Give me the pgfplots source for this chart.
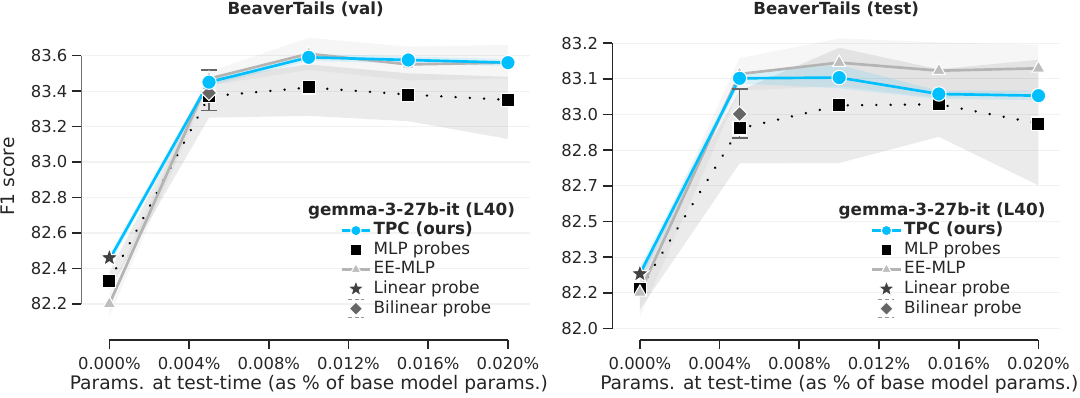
\documentclass[border=0pt]{standalone}
\usepackage{pgfplots}
\pgfplotsset{compat=1.18}
\usepackage{fontspec}
\setmainfont{DejaVu Sans}

\definecolor{tpc}{RGB}{0,191,255}
\definecolor{eemlp}{RGB}{190,190,190}
\definecolor{eegray}{RGB}{180,180,180}
\definecolor{linp}{RGB}{64,64,64}
\definecolor{bilp}{RGB}{102,102,102}
\definecolor{txt}{RGB}{38,38,38}

% filled star and square diamond, like matplotlib's * and D
\pgfdeclareplotmark{fstar}{%
  \pgfpathmoveto{\pgfpointpolar{90}{\pgfplotmarksize}}%
  \pgfpathlineto{\pgfpointpolar{126}{0.42\pgfplotmarksize}}%
  \pgfpathlineto{\pgfpointpolar{162}{\pgfplotmarksize}}%
  \pgfpathlineto{\pgfpointpolar{198}{0.42\pgfplotmarksize}}%
  \pgfpathlineto{\pgfpointpolar{234}{\pgfplotmarksize}}%
  \pgfpathlineto{\pgfpointpolar{270}{0.42\pgfplotmarksize}}%
  \pgfpathlineto{\pgfpointpolar{306}{\pgfplotmarksize}}%
  \pgfpathlineto{\pgfpointpolar{342}{0.42\pgfplotmarksize}}%
  \pgfpathlineto{\pgfpointpolar{18}{\pgfplotmarksize}}%
  \pgfpathlineto{\pgfpointpolar{54}{0.42\pgfplotmarksize}}%
  \pgfpathclose\pgfusepathqfillstroke}
\pgfdeclareplotmark{sqdiam}{%
  \pgfpathmoveto{\pgfqpoint{0pt}{\pgfplotmarksize}}%
  \pgfpathlineto{\pgfqpoint{\pgfplotmarksize}{0pt}}%
  \pgfpathlineto{\pgfqpoint{0pt}{-\pgfplotmarksize}}%
  \pgfpathlineto{\pgfqpoint{-\pgfplotmarksize}{0pt}}%
  \pgfpathclose\pgfusepathqfillstroke}

\pgfplotsset{
  legimg/.style={legend image code/.code={\draw[mark repeat=2,mark phase=2,##1] plot coordinates {(0pt,0pt) (10.6pt,0pt) (21.2pt,0pt)};}},
  tpcline/.style={tpc, line width=2pt},
  tpcmark/.style={mark=*, mark size=5.4pt, mark options={fill=tpc, draw=white, line width=0.8pt, solid}},
  mlpline/.style={black, line width=2pt, line cap=round, dash pattern=on 0.01pt off 10.7pt},
  mlpmark/.style={mark=square*, mark size=4.9pt, mark options={fill=black, draw=white, line width=0.8pt, solid}},
  eeline/.style={eegray, line width=2pt},
  eemark/.style={mark=triangle*, mark size=5.6pt, mark options={fill=eemlp, draw=white, line width=0.8pt, solid}},
  linmark/.style={mark=fstar, mark size=7.2pt, mark options={fill=linp, draw=white, line width=0.8pt, solid}},
  bilmark/.style={mark=sqdiam, mark size=5.8pt, mark options={fill=bilp, draw=white, line width=0.8pt, solid}},
  base/.style={
    scale only axis, width=336.3pt, height=232.5pt,
    xmin=-0.0014, xmax=0.0211,
    axis x line*=bottom, axis y line*=left,
    axis line style={draw=none},
    tick align=outside, major tick length=7pt,
    tick style={txt, line width=1.3pt},
    ymajorgrids, grid style={black!5, line width=0.8pt},
    scaled x ticks=false,
    xtick={0,0.004,0.008,0.012,0.016,0.02},
    xticklabels={0.000\%,0.004\%,0.008\%,0.012\%,0.016\%,0.020\%},
    ticklabel style={font=\fontsize{12.3}{14}\selectfont, text=txt},
    xticklabel style={yshift=-2.5pt},
    /pgf/number format/assume math mode=true,
    yticklabel style={/pgf/number format/.cd, fixed, fixed zerofill, precision=1},
    xlabel={Params. at test-time (as \% of base model params.)},
    every axis x label/.style={at={(rel axis cs:0.507,0)}, anchor=base, yshift=-37pt},
    every axis y label/.style={at={(rel axis cs:-0.1635,0.527)}, rotate=90, anchor=center},
    label style={font=\fontsize{14}{16}\selectfont, text=txt},
    every axis title shift=0pt,
    title style={font=\bfseries\fontsize{12.5}{14}\selectfont, text=txt, at={(0.5,1)}, anchor=base, yshift=11.25pt},
    legimg,
    legend cell align=left,
    legend style={draw=none, fill=none, font=\fontsize{12.6}{14}\selectfont, text=txt,
      at={(rel axis cs:0.577,0.384)}, anchor=north west, inner sep=0pt, row sep=0.6pt,
      nodes={text height=9.5pt, text depth=3pt, inner xsep=1.7pt, inner ysep=0.75pt}},
  },
  % legend images with a mark and no line
  mlpleg/.style={legend image code/.code={
    \draw[mark=square*, mark size=3.9pt, mark options={fill=black, draw=white, line width=0.6pt}]
      plot coordinates {(10.6pt,0pt)};}},
  linleg/.style={legend image code/.code={
    \draw[mark=fstar, mark size=6.2pt, mark options={fill=linp, draw=white, line width=0.6pt}]
      plot coordinates {(10.6pt,0pt)};}},
  billeg/.style={legend image code/.code={
    \draw[bilp!70, line width=0.9pt, dash pattern=on 3pt off 2pt]
      (4.6pt,6.75pt)--(16.6pt,6.75pt) (4.6pt,-6.75pt)--(16.6pt,-6.75pt);
    \draw[mark=sqdiam, mark size=4.9pt, mark options={fill=bilp, draw=white, line width=0.6pt}]
      plot coordinates {(10.6pt,0pt)};}},
}

\begin{document}
\begin{tikzpicture}

% ---------------- val ----------------
\begin{axis}[base,
  ymin=81.997, ymax=83.744,
  ytick={82.2,82.4,82.6,82.8,83.0,83.2,83.4,83.6},
  ylabel={F1 score},
  title={BeaverTails (val)},
]
% bands
\addplot[forget plot, draw=none, fill=black, fill opacity=0.035] coordinates {
  (0,82.26) (0.005,83.51) (0.01,83.70) (0.015,83.65) (0.02,83.66)
  (0.02,83.47) (0.015,83.46) (0.01,83.52) (0.005,83.43) (0,82.13)};
\addplot[forget plot, draw=none, fill=black, fill opacity=0.08] coordinates {
  (0,82.38) (0.005,83.47) (0.01,83.55) (0.015,83.50) (0.02,83.48)
  (0.02,83.13) (0.015,83.23) (0.01,83.26) (0.005,83.25) (0,82.28)};
\addplot[forget plot, draw=none, fill=tpc, fill opacity=0.12] coordinates {
  (0,82.48) (0.005,83.47) (0.01,83.61) (0.015,83.595) (0.02,83.58)
  (0.02,83.54) (0.015,83.555) (0.01,83.57) (0.005,83.43) (0,82.42)};
% series
\addplot[forget plot, mlpline, mlpmark] coordinates {
  (0,82.33) (0.005,83.37) (0.01,83.42) (0.015,83.38) (0.02,83.35)};
\addplot[forget plot, eeline, eemark] coordinates {
  (0,82.20) (0.005,83.47) (0.01,83.61) (0.015,83.55) (0.02,83.56)};
\addplot[forget plot, tpcline] coordinates {
  (0,82.45) (0.005,83.45) (0.01,83.59) (0.015,83.575) (0.02,83.56)};
\addplot[forget plot, only marks, linmark] coordinates {(0,82.46)};
\addplot[forget plot, only marks, bilmark,
  error bars/.cd, y dir=both, y explicit,
  error bar style={bilp, line width=1.2pt},
  error mark options={rotate=90, bilp, line width=1.2pt, mark size=6pt}]
  coordinates {(0.005,83.39) += (0,0.13) -= (0,0.10)};
\addplot[forget plot, only marks, tpcmark] coordinates {
  (0.005,83.45) (0.01,83.59) (0.015,83.575) (0.02,83.56)};
% legend
\addlegendimage{tpcline, tpcmark, mark size=3.9pt}
\addlegendentry{\textbf{TPC (ours)}}
\addlegendimage{mlpleg}
\addlegendentry{MLP probes}
\addlegendimage{eeline, eemark, mark size=4.4pt}
\addlegendentry{EE-MLP}
\addlegendimage{linleg}
\addlegendentry{Linear probe}
\addlegendimage{billeg}
\addlegendentry{Bilinear probe}
\node[font=\bfseries\fontsize{12.6}{14}\selectfont, text=txt, anchor=base] at (rel axis cs:0.736,0.401) {gemma-3-27b-it (L40)};
% trimmed spines
\draw[txt, line width=1.3pt] ({axis cs:0,82.2}|-{rel axis cs:0,0}) -- ({axis cs:0.02,82.2}|-{rel axis cs:0,0});
\draw[txt, line width=1.3pt] ({rel axis cs:0,0}|-{axis cs:0,82.2}) -- ({rel axis cs:0,0}|-{axis cs:0,83.6});
\end{axis}

% ---------------- test ----------------
\begin{axis}[base,
  at={(397.9pt,0pt)}, anchor=south west,
  ymin=81.952, ymax=83.255,
  ytick={82.0,82.15,82.3,82.45,82.6,82.75,82.9,83.05,83.2},
  yticklabels={82.0,82.2,82.3,82.5,82.7,82.8,83.0,83.1,83.2},
  title={BeaverTails (test)},
]
\addplot[forget plot, draw=none, fill=black, fill opacity=0.035] coordinates {
  (0,82.22) (0.005,83.137) (0.01,83.22) (0.015,83.203) (0.02,83.193)
  (0.02,83.0) (0.015,82.97) (0.01,83.02) (0.005,83.0) (0,82.05)};
\addplot[forget plot, draw=none, fill=black, fill opacity=0.08] coordinates {
  (0,82.25) (0.005,83.0) (0.01,83.18) (0.015,83.09) (0.02,83.13)
  (0.02,82.602) (0.015,82.806) (0.01,82.696) (0.005,82.694) (0,82.08)};
\addplot[forget plot, draw=none, fill=tpc, fill opacity=0.12] coordinates {
  (0,82.26) (0.005,83.075) (0.01,83.108) (0.015,83.0) (0.02,83.0)
  (0.02,82.96) (0.015,82.965) (0.01,83.01) (0.005,83.03) (0,82.20)};
\addplot[forget plot, mlpline, mlpmark] coordinates {
  (0,82.166) (0.005,82.841) (0.01,82.938) (0.015,82.943) (0.02,82.862)};
\addplot[forget plot, eeline, eemark] coordinates {
  (0,82.152) (0.005,83.07) (0.01,83.118) (0.015,83.084) (0.02,83.094)};
\addplot[forget plot, tpcline] coordinates {
  (0,82.23) (0.005,83.052) (0.01,83.055) (0.015,82.986) (0.02,82.979)};
\addplot[forget plot, only marks, linmark] coordinates {(0,82.23)};
\addplot[forget plot, only marks, bilmark,
  error bars/.cd, y dir=both, y explicit,
  error bar style={bilp, line width=1.2pt},
  error mark options={rotate=90, bilp, line width=1.2pt, mark size=6pt}]
  coordinates {(0.005,82.902) += (0,0.104) -= (0,0.102)};
\addplot[forget plot, only marks, tpcmark] coordinates {
  (0.005,83.052) (0.01,83.055) (0.015,82.986) (0.02,82.979)};
\addlegendimage{tpcline, tpcmark, mark size=3.9pt}
\addlegendentry{\textbf{TPC (ours)}}
\addlegendimage{mlpleg}
\addlegendentry{MLP probes}
\addlegendimage{eeline, eemark, mark size=4.4pt}
\addlegendentry{EE-MLP}
\addlegendimage{linleg}
\addlegendentry{Linear probe}
\addlegendimage{billeg}
\addlegendentry{Bilinear probe}
\node[font=\bfseries\fontsize{12.6}{14}\selectfont, text=txt, anchor=base] at (rel axis cs:0.736,0.401) {gemma-3-27b-it (L40)};
\draw[txt, line width=1.3pt] ({axis cs:0,82.0}|-{rel axis cs:0,0}) -- ({axis cs:0.02,82.0}|-{rel axis cs:0,0});
\draw[txt, line width=1.3pt] ({rel axis cs:0,0}|-{axis cs:0,82.0}) -- ({rel axis cs:0,0}|-{axis cs:0,83.2});
\end{axis}

% page = 1080 x 397 px at 0.75pt per px, left axis corner at (81.5px, 340px)
\pgfresetboundingbox
\path[use as bounding box] (-61.1pt,-42.75pt) rectangle (748.9pt,255pt);
\end{tikzpicture}
\end{document}
